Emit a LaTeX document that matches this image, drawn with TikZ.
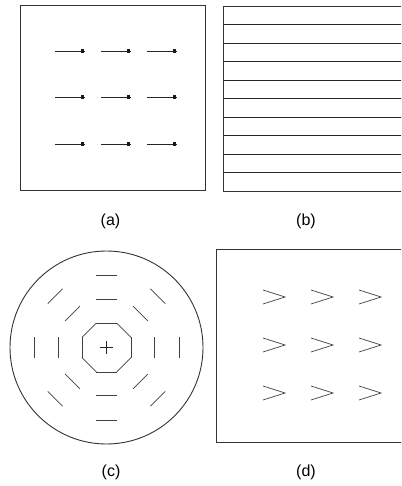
\documentclass[tikz,border=0pt]{standalone}
\usepackage{fontspec}
\setmainfont{Liberation Sans}
\usetikzlibrary{calc}
\begin{document}
\begin{tikzpicture}[x=1pt,y=-1pt,
  frame/.style={line width=0.9pt, draw=black!80},
  stroke/.style={line width=0.8pt, draw=black!85},
  thinstroke/.style={line width=0.7pt, draw=black!75},
  lbl/.style={font=\fontsize{16}{19}\selectfont, inner sep=0pt}]
\useasboundingbox (0,0) rectangle (401,486);
\begin{scope}
\clip (0,0) rectangle (401,486);
% (a)
\draw[frame] (20,5) rectangle (205,190);
\foreach \row in {51,97,144}{
  \foreach \col in {55,101,147}{
    \draw[stroke] (\col,\row) -- ++(30,0);
    \fill[black!90] (\col+25.5,\row-1.8) rectangle ++(3,3.6);
  }
}
\node[lbl] (la) at (110.5,221.5) {(a)};
% (b)
\draw[frame] (403,6) -- (223,6) -- (223,191) -- (403,191);
\foreach \k in {1,...,9}{
  \draw[stroke] (223,6+18.5*\k) -- (403,6+18.5*\k);
}
\node[lbl] (lb) at (306,221.5) {(b)};
% (c)
\coordinate (c) at (106.5,347.5);
\draw[frame] (c) circle[radius=96.5];
\draw[stroke] ($(c)+(-6.5,0)$) -- ($(c)+(6.5,0)$);
\draw[stroke] ($(c)+(0,-6.5)$) -- ($(c)+(0,6.5)$);
\foreach \r/\h in {24.5/10.1, 48/10.5, 72.5/10.5}{
  \foreach \a in {0,45,...,315}{
    \draw[thinstroke] ($(c)+(\a:\r)+(\a+90:\h)$) -- ($(c)+(\a:\r)-(\a+90:\h)$);
  }
}
\node[lbl] (lc) at (111,472) {(c)};
% (d)
\draw[frame] (403,249) -- (216,249) -- (216,442) -- (403,442);
\foreach \row in {297,345,393}{
  \foreach \col in {263,311,359}{
    \draw[thinstroke] (\col,\row-7) -- (\col+22,\row) -- (\col,\row+7);
  }
}
\node[lbl] (ld) at (306,472) {(d)};
\end{scope}
\end{tikzpicture}
\end{document}
